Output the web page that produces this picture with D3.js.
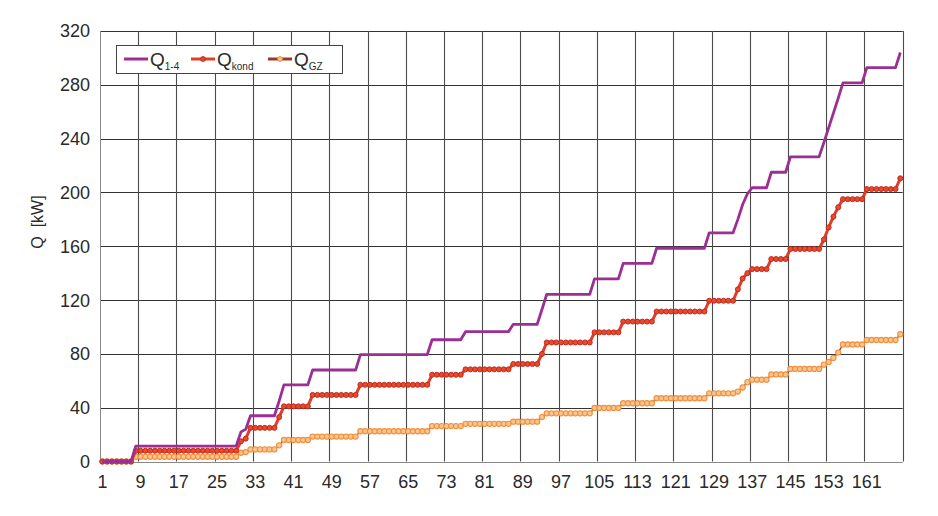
<!DOCTYPE html>
<html>
<head>
<meta charset="utf-8">
<script src="https://cdn.jsdelivr.net/npm/d3@7"></script>
<style>
body { margin: 0; background: #fff; }
text { font-family: "Liberation Sans Narrow", "Arial Narrow", "Liberation Sans", Arial, sans-serif; fill: #2a2a2a; }
</style>
</head>
<body>
<svg id="chart" width="938" height="516"></svg>
<script>
// x categories 1..168, labels every 8th
var xLabels = [1, 9, 17, 25, 33, 41, 49, 57, 65, 73, 81, 89, 97, 105, 113, 121, 129, 137, 145, 153, 161];
var yTicks = [0, 40, 80, 120, 160, 200, 240, 280, 320];

var q14 = [
  0,0,0,0,0,0,0,
  11.5,11.5,11.5,11.5,11.5,11.5,11.5,11.5,11.5,11.5,
  11.5,11.5,11.5,11.5,11.5,11.5,11.5,11.5,11.5,11.5,
  11.5,11.5,
  22,24,
  34,34,34,34,34,34,
  45,
  57,57,57,57,57,57,
  68,68,68,68,68,68,68,68,68,68,
  79.5,79.5,79.5,79.5,79.5,79.5,79.5,79.5,79.5,79.5,79.5,79.5,79.5,79.5,79.5,
  90.5,90.5,90.5,90.5,90.5,90.5,90.5,
  96.5,96.5,96.5,96.5,96.5,96.5,96.5,96.5,96.5,96.5,
  102,102,102,102,102,102,
  113,
  124.3,124.3,124.3,124.3,124.3,124.3,124.3,124.3,124.3,124.3,
  135.8,135.8,135.8,135.8,135.8,135.8,
  147.3,147.3,147.3,147.3,147.3,147.3,147.3,
  158.5,158.5,158.5,158.5,158.5,158.5,158.5,158.5,158.5,158.5,158.5,
  170,170,170,170,170,170,
  180,191,199,
  203.5,203.5,203.5,203.5,
  215,215,215,215,
  226.5,226.5,226.5,226.5,226.5,226.5,226.5,
  237,248,259,270,
  281.5,281.5,281.5,281.5,281.5,
  292.8,292.8,292.8,292.8,292.8,292.8,292.8,
  304
];

var qKond = [
  0,0,0,0,0,0,0,
  8,8,8,8,8,8,8,8,8,8,
  8,8,8,8,8,8,8,8,8,8,
  8,8,
  15,17,
  25,25,25,25,25,25,
  33,
  41,41,41,41,41,41,
  49.5,49.5,49.5,49.5,49.5,49.5,49.5,49.5,49.5,49.5,
  57,57,57,57,57,57,57,57,57,57,57,57,57,57,57,
  64.5,64.5,64.5,64.5,64.5,64.5,64.5,
  68.5,68.5,68.5,68.5,68.5,68.5,68.5,68.5,68.5,68.5,
  72.5,72.5,72.5,72.5,72.5,72.5,
  80,
  88.5,88.5,88.5,88.5,88.5,88.5,88.5,88.5,88.5,88.5,
  96,96,96,96,96,96,
  104,104,104,104,104,104,104,
  111.5,111.5,111.5,111.5,111.5,111.5,111.5,111.5,111.5,111.5,111.5,
  119.5,119.5,119.5,119.5,119.5,119.5,
  128,136,140,
  143,143,143,143,
  150.5,150.5,150.5,150.5,
  158,158,158,158,158,158,158,
  165,174,182,189,
  195,195,195,195,195,
  202.5,202.5,202.5,202.5,202.5,202.5,202.5,
  210.5
];

var qGZ = [
  0,0,0,0,0,0,0,
  3.5,3.5,3.5,3.5,3.5,3.5,3.5,3.5,3.5,3.5,
  3.5,3.5,3.5,3.5,3.5,3.5,3.5,3.5,3.5,3.5,
  3.5,3.5,
  6.5,7,
  9,9,9,9,9,9,
  12,
  16,16,16,16,16,16,
  18.5,18.5,18.5,18.5,18.5,18.5,18.5,18.5,18.5,18.5,
  22.5,22.5,22.5,22.5,22.5,22.5,22.5,22.5,22.5,22.5,22.5,22.5,22.5,22.5,22.5,
  26.3,26.3,26.3,26.3,26.3,26.3,26.3,
  28,28,28,28,28,28,28,28,28,28,
  29.6,29.6,29.6,29.6,29.6,29.6,
  33,
  35.8,35.8,35.8,35.8,35.8,35.8,35.8,35.8,35.8,35.8,
  39.8,39.8,39.8,39.8,39.8,39.8,
  43.3,43.3,43.3,43.3,43.3,43.3,43.3,
  47,47,47,47,47,47,47,47,47,47,47,
  50.7,50.7,50.7,50.7,50.7,50.7,
  52,55,59,
  60.8,60.8,60.8,60.8,
  64.7,64.7,64.7,64.7,
  68.8,68.8,68.8,68.8,68.8,68.8,68.8,
  72,74,77,81,
  87,87,87,87,87,
  90.3,90.3,90.3,90.3,90.3,90.3,90.3,
  94.6
];

var nCat = qKond.length;
var svg = d3.select("#chart");

var x = d3.scaleLinear().domain([0.5, nCat + 0.5]).range([100, 902.7]);
var y = d3.scaleLinear().domain([0, 320]).range([461.5, 31]);

var crisp = function(v) { return Math.round(v) + 0.5; };

// grid
var grid = svg.append("g").attr("class", "grid");
grid.selectAll("line.h")
    .data(yTicks)
    .enter().append("line")
      .attr("class", "h")
      .attr("x1", x(0.5)).attr("x2", x(nCat + 0.5))
      .attr("y1", function(d) { return crisp(y(d)); })
      .attr("y2", function(d) { return crisp(y(d)); })
      .attr("stroke", function(d) { return d === 0 ? "#888" : "#333"; })
      .attr("stroke-width", 1);

grid.selectAll("line.v")
    .data(xLabels.slice(1).concat([nCat + 1]))
    .enter().append("line")
      .attr("class", "v")
      .attr("x1", function(d) { return crisp(x(d - 0.5)); })
      .attr("x2", function(d) { return crisp(x(d - 0.5)); })
      .attr("y1", y(320)).attr("y2", y(0))
      .attr("stroke", "#4a4a4a")
      .attr("stroke-width", 1.1);

svg.append("line")
    .attr("x1", crisp(x(0.5))).attr("x2", crisp(x(0.5)))
    .attr("y1", y(320)).attr("y2", y(0))
    .attr("stroke", "#888");

// axes labels
svg.append("g").selectAll("text")
    .data(yTicks)
    .enter().append("text")
      .attr("x", 90)
      .attr("y", function(d) { return y(d); })
      .attr("dy", "0.36em")
      .attr("text-anchor", "end")
      .style("font-size", "18px")
      .text(function(d) { return d; });

svg.append("g").selectAll("text")
    .data(xLabels)
    .enter().append("text")
      .attr("x", function(d) { return x(d); })
      .attr("y", 488)
      .attr("text-anchor", "middle")
      .style("font-size", "18px")
      .text(function(d) { return d; });

svg.append("text")
    .attr("transform", "translate(43,222) rotate(-90)")
    .attr("text-anchor", "middle")
    .style("font-size", "16px")
    .style("white-space", "pre")
    .text("Q  [kW]");

var line = d3.line()
    .x(function(d, i) { return x(i + 1); })
    .y(function(d) { return y(d); });

// Q_GZ
svg.append("path")
    .attr("d", line(qGZ))
    .attr("fill", "none")
    .attr("stroke", "#9a3a26")
    .attr("stroke-width", 1.3);
svg.append("g").selectAll("circle")
    .data(qGZ)
    .enter().append("circle")
      .attr("cx", function(d, i) { return x(i + 1); })
      .attr("cy", function(d) { return y(d); })
      .attr("r", 2.6)
      .attr("fill", "#f9c48e")
      .attr("stroke", "#f0903f")
      .attr("stroke-width", 1.1);

// Q_kond
svg.append("path")
    .attr("d", line(qKond))
    .attr("fill", "none")
    .attr("stroke", "#e23d2a")
    .attr("stroke-width", 3);
svg.append("g").selectAll("circle")
    .data(qKond)
    .enter().append("circle")
      .attr("cx", function(d, i) { return x(i + 1); })
      .attr("cy", function(d) { return y(d); })
      .attr("r", 2.5)
      .attr("fill", "#e9492f")
      .attr("stroke", "#c02c1c")
      .attr("stroke-width", 1);

// Q_1-4
svg.append("path")
    .attr("d", line(q14))
    .attr("fill", "none")
    .attr("stroke", "#9c2f94")
    .attr("stroke-width", 2.8)
    .attr("stroke-linejoin", "round");

// legend
var legend = svg.append("g");
legend.append("rect")
    .attr("x", 116.5).attr("y", 45.5)
    .attr("width", 226).attr("height", 28)
    .attr("fill", "#fff")
    .attr("stroke", "#444");

var items = [
  {sub: "1-4", color: "#9c2f94", x: 124, marker: null},
  {sub: "kond", color: "#e23d2a", x: 191, marker: {fill: "#e9492f", stroke: "#c02c1c"}},
  {sub: "GZ", color: "#9a3a26", x: 268, marker: {fill: "#f9c48e", stroke: "#f0903f"}}
];
items.forEach(function(it) {
  legend.append("line")
      .attr("x1", it.x).attr("x2", it.x + 24)
      .attr("y1", 59).attr("y2", 59)
      .attr("stroke", it.color)
      .attr("stroke-width", 3);
  if (it.marker) {
    legend.append("circle")
        .attr("cx", it.x + 12).attr("cy", 59).attr("r", 2.4)
        .attr("fill", it.marker.fill).attr("stroke", it.marker.stroke);
  }
  var t = legend.append("text")
      .attr("x", it.x + 26).attr("y", 65.5)
      .style("font-size", "19px")
      .text("Q");
  t.append("tspan")
      .attr("dy", 4)
      .style("font-size", "10px")
      .text(it.sub);
});
</script>
</body>
</html>
